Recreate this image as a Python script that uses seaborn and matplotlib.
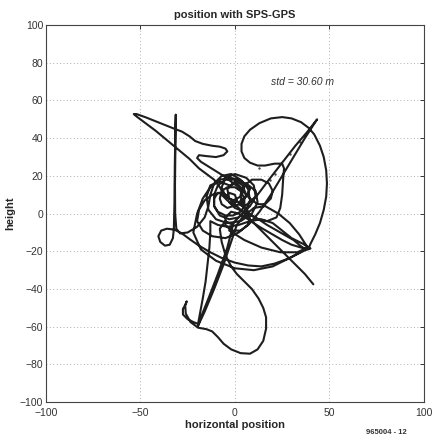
"""
Position scatter of an SPS-GPS receiver (horizontal vs. height),
redrawn in the old MATLAB look: dotted grid, inward ticks on all sides.
"""

import matplotlib
matplotlib.use("Agg")
import matplotlib.pyplot as plt
import pandas as pd
import seaborn as sns

# traced trajectory (metres), in drawing order; one row per stretch
path_x = [
    41.5, 37, 32, 27, 21, 15, 9, 4, 0, -3,
    -6, -9, -11, -11, -9, -5, -1, 3, 5, 5, 3, 0, -4, -7, -8, -7, -4, -1, 1, 0, -3, -5,
    -8, -11, -15, -19, -24, -30, -36, -42, -48, -52, -53.5, -52, -47, -42, -37, -32, -28, -24, -21, -17, -12, -8, -5, -4,
    -6, -10, -15, -19, -20, -18, -14, -10, -6, -2, 2, 5, 8,
    12, 16, 19, 20, 18, 14, 9, 5, 3, 4, 7, 12, 17, 22,
    24, 25, 25.5, 26, 25, 21, 16, 12, 8, 5, 3.5, 3.5, 5, 8, 13, 19, 25, 30, 35, 39, 42, 45, 47, 48.3, 48.7, 48.3, 47, 45, 42.5, 40, 39,
    35, 30, 25, 19, 13, 7, 2, -2, -5, -5, -2, 3, 7, 8, 6, 2,
    6, 12, 18, 25, 32, 38, 43.5, 42.5, 37, 31, 25, 19, 13, 8,
    2, -5, -12, -17, -20, -19, -16, -12,
    -8, -4, 0, 4, 6, 4, 0, -5, -9, -11, -11, -8, -3, 2, 6, 8, 7, 3, -2, -7, -11, -13, -14,
    -16, -20, -25, -29, -31,
    -31.6, -31.7, -31.5, -31.3, -31.5, -31.8, -32, -32.3, -32.8,
    -34.5, -37, -39.5, -40.5, -39, -36, -32, -28, -24, -19, -13, -7, 0, 7, 14, 21, 28, 33, 37, 40,
    36, 30, 25, 20, 14, 8, 2, -4, -9, -13,
    -13, -13.5, -14.5, -15.5, -17, -18.5, -19.5, -22, -25, -27.5, -27.5, -26, -25.5, -26.3, -26, -23.5, -19.5, -15, -12, -9,
    -6, -2, 3, 8, 12, 15, 16.5, 16.5, 15, 12.5, 9, 5, 1, -2, -5, -7, -8,
    -5, -1, -4, -9, -14, -18, -19.5, -16, -11, -6, -2, 1,
    4, 10, 16, 23, 29, 34, 38.5, 33, 24, 14, 5, -3,
    0, 4, 8, 11, 10, 6, 0, -5, -7, -5, -1, 3, 4, 1, -3,
    -8, -13, -15, -14, -10, -4, 3, 9, 12, 11, 6, 0, -4, -3, 2, 6, 8, 4,
    -2, -8, -13, -17, -20, -22, -18, -10, 0, 10, 20, 30, 37,
    31, 24, 17, 11, 5, 0, -3,
]
path_y = [
    -37.5, -32, -27, -22, -16, -10, -4, 1, 5, 8,
    11, 11, 8, 4, 1, -1, -1, 1, 4, 8, 12, 14, 14, 12, 8, 5, 3, 4, 7, 10, 11, 9,
    14, 18, 21, 24, 29, 34, 39, 44, 48.5, 51.5, 52.8, 52.8, 51, 49, 47, 45, 43.5, 41, 38.5, 37, 36, 35.5, 34.5, 33,
    31, 30, 30.5, 31, 29.5, 27.5, 25, 22.5, 20, 17, 14, 11, 8,
    5, 5, 8, 12, 16, 18, 18, 15, 10, 4, 0, -3, -4, -2,
    3, 10, 18, 24, 26.5, 26.5, 25.5, 25.5, 27, 29.5, 33, 37, 41, 44.5, 48, 50.5, 51.2, 50.5, 48.5, 45.5, 42, 36, 30, 23, 16, 9, 2, -5, -11, -16, -18.5,
    -18, -16.5, -14, -10.5, -7, -3, 0, 1, -2, -6, -9, -9, -6, -1, 3, 5,
    4.5, 10, 18, 27, 36, 43, 50, 48.5, 40, 30, 20, 10, 1, -5,
    -10, -13, -12, -9, -4, 2, 7, 10,
    11, 7, 4, 6, 10, 15, 18, 18, 15, 10, 4, -1, -3, -2, 2, 7, 13, 18, 21, 20, 16, 10, 4,
    -2, -7, -10, -10.5, -8,
    0, 15, 35, 52.5, 45, 25, 5, -8, -13,
    -16.5, -17, -15, -12, -9, -8, -8.5, -10.5, -13.5, -17, -20.5, -23.5, -26, -27.5, -28, -26.5, -24, -21.5, -19.5, -18.5,
    -16, -13, -9, -5, -3, -4, -6, -7, -6, -4,
    -10, -18, -27, -36, -45, -53, -58.5, -57.5, -56, -53.5, -50.5, -48, -46.5, -48.5, -53, -57.5, -60.5, -61.3, -62.5, -65.5,
    -69, -72, -74, -74.3, -72, -67.5, -61, -55, -50, -45, -40, -36, -32, -28, -22, -15, -8,
    -4, -6, -18, -32, -45, -55, -59.5, -52, -40, -27, -15, -6,
    -2, 3, 4, 0, -5, -11, -18, -20.5, -20.5, -18, -14, -9,
    -4, 0, 4, 9, 15, 19, 21, 19, 14, 9, 7, 9, 13, 16, 15,
    17, 15, 9, 2, -3, -5, -4, 0, 6, 12, 16, 17, 13, 8, 6, 9, 13, 17,
    19, 18, 14, 8, 0, -10, -19, -25, -29, -30, -28, -23, -19,
    -14, -10, -6, -2, 1, 3, 6,
]

# stray single fixes
dots_x = [34.7, 29.3, 21.3, 18.7, 12.5]
dots_y = [38.1, 31.7, 21.1, 17.9, 24.0]

title = "position with SPS-GPS"
std_label = "std = 30.60 m"
xticks = [-100, -50, 0, 50, 100]
yticks = [-100, -80, -60, -40, -20, 0, 20, 40, 60, 80, 100]

sns.set_style("white")
plt.rcParams["font.family"] = ["Liberation Sans", "DejaVu Sans"]

df = pd.DataFrame({"x": path_x, "y": path_y})

fig = plt.figure(figsize=(4.33, 4.40), dpi=100)
ax = fig.add_axes([0.106, 0.086, 0.873, 0.857])

sns.lineplot(data=df, x="x", y="y", sort=False, estimator=None,
             color="#1e1e1e", linewidth=1.5, solid_joinstyle="round",
             solid_capstyle="round", ax=ax)
sns.scatterplot(x=dots_x, y=dots_y, color="#444444", s=3, linewidth=0, ax=ax)

ax.set_xlim(-100, 100)
ax.set_ylim(-100, 100)
ax.set_xticks(xticks)
ax.set_yticks(yticks)
ax.grid(True, linestyle=(0, (1, 2.5)), color="#b0b0b0", linewidth=0.7)
ax.tick_params(direction="in", length=3, width=0.7, top=True, right=True,
               labelsize=7.5, colors="#333333", pad=2)
ax.tick_params(axis="x", pad=4)
for s in ax.spines.values():
    s.set_color("#444444")
    s.set_linewidth(0.8)

ax.set_title(title, fontsize=8, fontweight="bold", pad=5)
ax.set_xlabel("horizontal position", fontsize=8, fontweight="bold", labelpad=2)
ax.set_ylabel("height", fontsize=8, fontweight="bold", labelpad=3)
ax.text(19, 70, std_label, fontsize=7.5, style="italic", color="#333333",
        va="center")
fig.text(0.892, 0.018, "965004 - 12", fontsize=5.5, fontweight="bold",
         ha="center", va="center", color="#333333")

fig.savefig("out.png", dpi=100)
